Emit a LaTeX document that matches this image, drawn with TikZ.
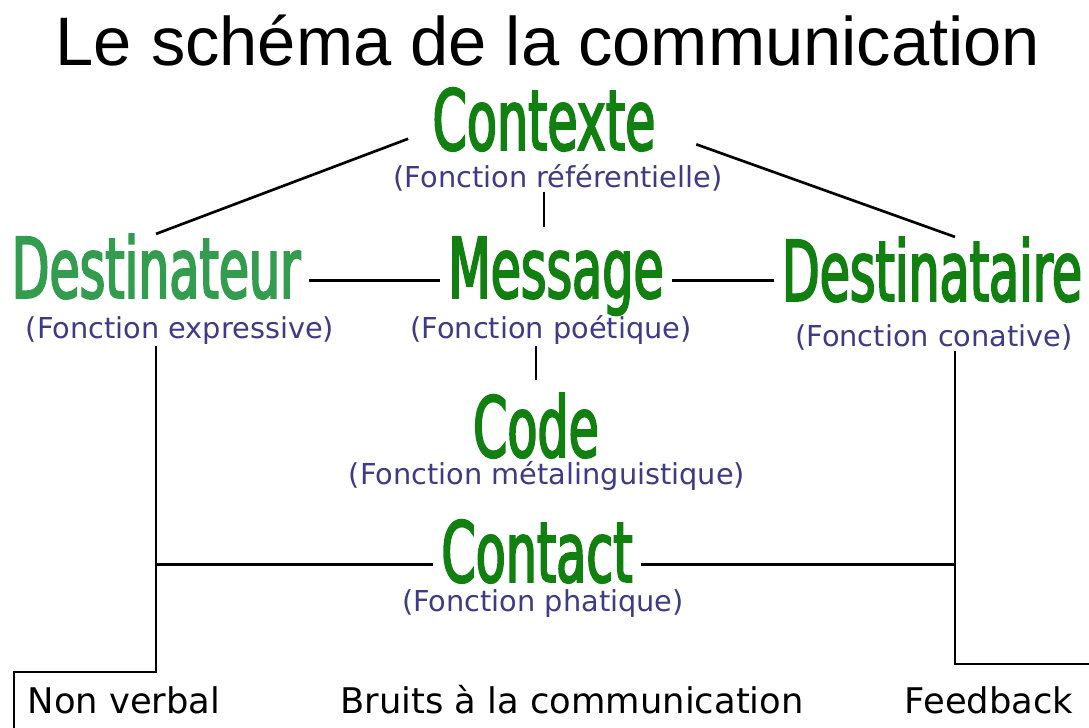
\documentclass[tikz,border=0pt]{standalone}
\usepackage{fontspec}
\setmainfont{DejaVu Sans}
\newfontfamily\titlefont{Liberation Sans}
\newfontfamily\wordfont[FakeStretch=0.585,FakeBold=2.2]{DejaVu Sans}
\definecolor{W}{RGB}{17,128,17}
\definecolor{E}{RGB}{52,156,78}
\definecolor{F}{RGB}{62,58,132}
\newcommand{\drawthick}{\draw[line width=2pt]}
\tikzset{
  word/.style={font=\wordfont\fontsize{63}{63}\selectfont, text=W, inner xsep=6pt, inner ysep=0pt, anchor=base},
  fonction/.style={font=\fontsize{21.6}{21.6}\selectfont, text=F, inner sep=1pt, anchor=base},
  bas/.style={font=\fontsize{26.5}{26.5}\selectfont, anchor=base},
  haut/.style={yshift=13pt}
}

\begin{document}
\begin{tikzpicture}[x=0.75pt,y=-0.75pt]
\useasboundingbox (0,0) rectangle (1089,728);
\node[font=\titlefont\fontsize{51.5}{51.5}\selectfont, anchor=base] (titre) at (548,65) {Le schéma de la communication};
\node[word] (ctx) at (544,150) {Contexte};
\node[fonction] (ref) at (558,187) {(Fonction référentielle)};
\node[word, text=E] (dtr) at (156,298) {Destinateur};
\node[fonction] (exp) at (180,338) {(Fonction expressive)};
\node[word] (msg) at (556,298) {Message};
\node[fonction] (poe) at (551,338) {(Fonction poétique)};
\node[word] (dta) at (932,301) {Destinataire};
\node[fonction] (con) at (934,346) {(Fonction conative)};
\node[word] (code) at (536,457) {Code};
\node[fonction] (meta) at (547,484) {(Fonction métalinguistique)};
\node[word] (cnt) at (537,582) {Contact};
\node[fonction] (pha) at (543,611) {(Fonction phatique)};
\node[bas] (nv) at (124,713) {Non verbal};
\node[bas] (bruit) at (572,713) {Bruits à la communication};
\node[bas] (fb) at (989,713) {Feedback};
\coordinate (nvcoin) at (14,672);
\coordinate (nvbas) at (14,728);
\coordinate (fbcoin) at (955,664);
\coordinate (fbbord) at (1089,664);
% liens du contexte
\drawthick[shorten <=13pt] ([haut]ctx.base west) -- (dtr.north);
\drawthick[shorten <=26pt] ([haut]ctx.base east) -- (fbcoin |- dta.north);
\drawthick[shorten >=7pt] (ctx |- ref.south) -- (ctx |- msg.north);
% ligne du message
\drawthick ([haut]dtr.base east) -- ([haut]msg.base west);
\drawthick ([haut]msg.base east) -- ([haut]msg.base east -| dta.west);
\drawthick[shorten >=10pt] (code |- poe.south) -- (code.north);
% contact et retours
\drawthick (dtr |- exp.south) -- (dtr |- nvcoin) -- (nvcoin) -- (nvbas);
\drawthick (fbcoin |- con.south) -- (fbcoin) -- (fbbord);
\drawthick ([haut]cnt.base west) -- ([haut]cnt.base west -| dtr);
\drawthick ([haut]cnt.base east) -- ([haut]cnt.base east -| fbcoin);
\end{tikzpicture}
\end{document}
